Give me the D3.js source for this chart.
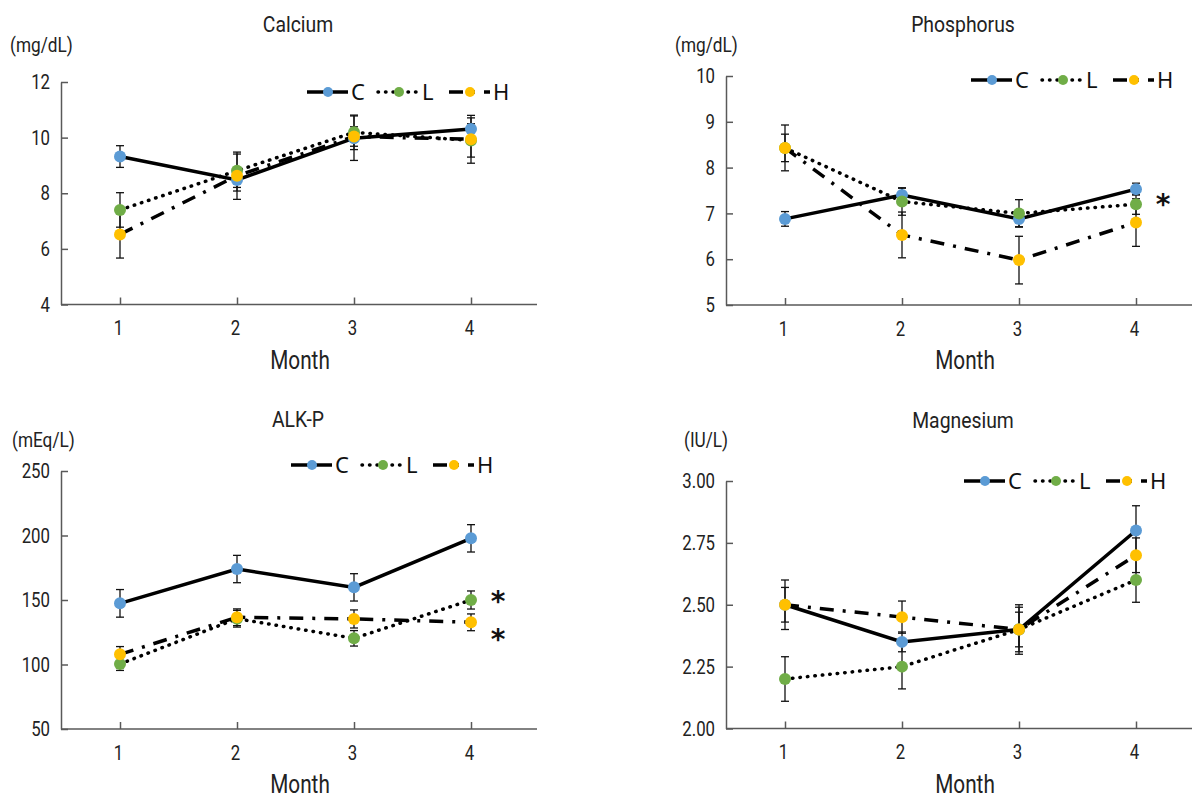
<!DOCTYPE html>
<html>
<head>
<meta charset="utf-8">
<script src="https://cdn.jsdelivr.net/npm/d3@7"></script>
<style>
  body { margin: 0; background: #fff; }
  svg { display: block; }
  .axis path, .axis line { stroke: #595959; stroke-width: 1.5; }
  .axis text { font-family: "Roboto", sans-serif; font-size: 21px; fill: #222; }
  .title, .unit, .month { font-family: "Roboto", sans-serif; fill: #222; }
  .legend text { font-family: "Noto Sans", sans-serif; font-size: 22px; fill: #111; }
  .star { font-family: "DejaVu Sans", sans-serif; font-weight: bold; font-size: 28px; fill: #111; }
</style>
</head>
<body>
<div id="chart"></div>
<script>
// months on the x axis, groups C / L / H
const months = [1, 2, 3, 4];
const groups = ["C", "L", "H"];
const groupColors = ["#5b9bd5", "#70ad47", "#ffc000"];

// Calcium (mg/dL): rows = C, L, H
const calciumMeans = [[9.32, 8.48, 9.98, 10.31], [7.40, 8.81, 10.19, 9.90], [6.52, 8.63, 10.04, 9.94]];
const calciumErrors = [[0.39, 0.40, 0.80, 0.40], [0.62, 0.60, 0.62, 0.60], [0.85, 0.85, 0.35, 0.86]];
const calciumTicks = [4, 6, 8, 10, 12];

// Phosphorus (mg/dL)
const phosphorusMeans = [[6.88, 7.40, 6.88, 7.53], [8.43, 7.26, 7.00, 7.20], [8.43, 6.53, 5.98, 6.80]];
const phosphorusErrors = [[0.16, 0.15, 0.17, 0.13], [0.30, 0.30, 0.30, 0.22], [0.50, 0.50, 0.52, 0.52]];
const phosphorusTicks = [5, 6, 7, 8, 9, 10];

// ALK-P (mEq/L)
const alkpMeans = [[147.4, 174.0, 159.8, 197.8], [100.4, 135.5, 120.3, 150.0], [107.9, 136.6, 135.3, 132.7]];
const alkpErrors = [[10.7, 10.6, 10.6, 10.6], [5.0, 6.5, 6.0, 7.0], [6.0, 6.5, 7.0, 6.5]];
const alkpTicks = [50, 100, 150, 200, 250];

// Magnesium (IU/L)
const magnesiumMeans = [[2.50, 2.35, 2.40, 2.80], [2.20, 2.25, 2.40, 2.60], [2.50, 2.45, 2.40, 2.70]];
const magnesiumErrors = [[0.10, 0.04, 0.10, 0.10], [0.09, 0.09, 0.09, 0.09], [0.07, 0.065, 0.07, 0.07]];
const magnesiumTicks = [2.00, 2.25, 2.50, 2.75, 3.00];

// significance marks (value level next to month 4)
const phosphorusStars = [7.30];
const alkpStars = [153, 123];

// line styles per group: solid, dotted, dash-dot
const dashes = [null, "0.5 7", "14 9 3 9"];
const caps = ["butt", "round", "butt"];

const panels = [
    {title: "Calcium", unit: "(mg/dL)", means: calciumMeans, errors: calciumErrors, ticks: calciumTicks,
     fmt: d3.format("d"), left: 61, right: 537, top: 82, bottom: 304.5, titleY: 32, unitX: 10, unitY: 52,
     legendX: 328, legendY: 92, stars: []},
    {title: "Phosphorus", unit: "(mg/dL)", means: phosphorusMeans, errors: phosphorusErrors, ticks: phosphorusTicks,
     fmt: d3.format("d"), left: 726, right: 1192, top: 76, bottom: 305, titleY: 32, unitX: 675, unitY: 52,
     legendX: 992, legendY: 80, stars: phosphorusStars},
    {title: "ALK-P", unit: "(mEq/L)", means: alkpMeans, errors: alkpErrors, ticks: alkpTicks,
     fmt: d3.format("d"), left: 61, right: 537, top: 471, bottom: 729, titleY: 427, unitX: 12, unitY: 447,
     legendX: 312, legendY: 465, stars: alkpStars},
    {title: "Magnesium", unit: "(IU/L)", means: magnesiumMeans, errors: magnesiumErrors, ticks: magnesiumTicks,
     fmt: d3.format(".2f"), left: 726, right: 1192, top: 481, bottom: 728.5, titleY: 428, unitX: 684, unitY: 447,
     legendX: 985, legendY: 481, stars: []}
];

const svg = d3.select("#chart").append("svg")
    .attr("width", 1192)
    .attr("height", 799);

// condensed-looking text: squeeze horizontally around the anchor point
function narrowText(parent, cls, x, y, size, squeeze, anchor, str) {
    return parent.append("text").attr("class", cls)
        .attr("transform", `translate(${x}, ${y}) scale(${squeeze}, 1)`)
        .attr("text-anchor", anchor)
        .style("font-size", size + "px")
        .text(str);
}

panels.forEach(p => {
    let g = svg.append("g").attr("transform", `translate(${p.left}, 0)`);
    let w = p.right - p.left;

    let x = d3.scalePoint().domain(months).range([59, 410]);
    let y = d3.scaleLinear().domain(d3.extent(p.ticks)).range([p.bottom, p.top]);

    // axes (ticks point inward)
    let yAxis = g.append("g")
        .attr("class", "axis")
        .call(d3.axisLeft(y).tickValues(p.ticks).tickFormat(p.fmt)
            .tickSizeInner(-7).tickSizeOuter(0).tickPadding(0));
    yAxis.selectAll(".tick text")
        .attr("x", null)
        .attr("transform", "translate(-11, 0) scale(0.8, 1)");

    let xAxis = g.append("g")
        .attr("class", "axis")
        .attr("transform", `translate(0, ${p.bottom})`)
        .call(d3.axisBottom(x).tickSizeInner(-7).tickSizeOuter(0).tickPadding(16));
    xAxis.select(".domain").attr("d", `M0,0H${w}`);
    xAxis.selectAll(".tick text").attr("transform", "translate(-2, 0) scale(0.8, 1)");

    // titles
    narrowText(g, "title", 237, p.titleY, 22, 0.88, "middle", p.title);
    narrowText(svg, "unit", p.unitX, p.unitY, 21, 0.82, "start", p.unit);
    narrowText(g, "month", 239, p.bottom + 64, 25, 0.83, "middle", "Month");

    let line = d3.line()
        .x((d, i) => x(months[i]))
        .y(d => y(d));

    // series: error bars, line
    groups.forEach((grp, gi) => {
        let sg = g.append("g").attr("class", "series-" + grp);

        let bars = sg.selectAll(".err")
            .data(p.means[gi].map((m, i) => ({m: m, e: p.errors[gi][i], month: months[i]})))
            .enter().append("g").attr("class", "err")
            .attr("stroke", "#111").attr("stroke-width", 1.3);
        bars.append("line")
            .attr("x1", d => x(d.month)).attr("x2", d => x(d.month))
            .attr("y1", d => y(d.m - d.e)).attr("y2", d => y(d.m + d.e));
        bars.append("line")
            .attr("x1", d => x(d.month) - 4).attr("x2", d => x(d.month) + 4)
            .attr("y1", d => y(d.m + d.e)).attr("y2", d => y(d.m + d.e));
        bars.append("line")
            .attr("x1", d => x(d.month) - 4).attr("x2", d => x(d.month) + 4)
            .attr("y1", d => y(d.m - d.e)).attr("y2", d => y(d.m - d.e));

        sg.append("path")
            .datum(p.means[gi])
            .attr("d", line)
            .attr("fill", "none")
            .attr("stroke", "#000")
            .attr("stroke-width", 3.5)
            .attr("stroke-linecap", caps[gi])
            .attr("stroke-dasharray", dashes[gi]);
    });

    // markers on top
    groups.forEach((grp, gi) => {
        g.append("g").selectAll("circle")
            .data(p.means[gi])
            .enter().append("circle")
            .attr("cx", (d, i) => x(months[i]))
            .attr("cy", d => y(d))
            .attr("r", 6)
            .attr("fill", groupColors[gi]);
    });

    // significance asterisks
    g.selectAll(".star")
        .data(p.stars)
        .enter().append("text")
        .attr("class", "star")
        .attr("x", x(4) + 27)
        .attr("y", d => y(d) + 14.5)
        .attr("text-anchor", "middle")
        .text("*");

    // legend
    let legend = svg.append("g").attr("class", "legend");
    groups.forEach((grp, gi) => {
        let cx = p.legendX + gi * 71;
        legend.append("line")
            .attr("x1", cx - 21).attr("x2", cx + 20)
            .attr("y1", p.legendY).attr("y2", p.legendY)
            .attr("stroke", "#000").attr("stroke-width", 3.5)
            .attr("stroke-linecap", caps[gi])
            .attr("stroke-dasharray", dashes[gi]);
        legend.append("circle")
            .attr("cx", cx).attr("cy", p.legendY).attr("r", 5)
            .attr("fill", groupColors[gi]);
        legend.append("text")
            .attr("x", cx + 23).attr("y", p.legendY + 8)
            .text(grp);
    });
});
</script>
</body>
</html>
